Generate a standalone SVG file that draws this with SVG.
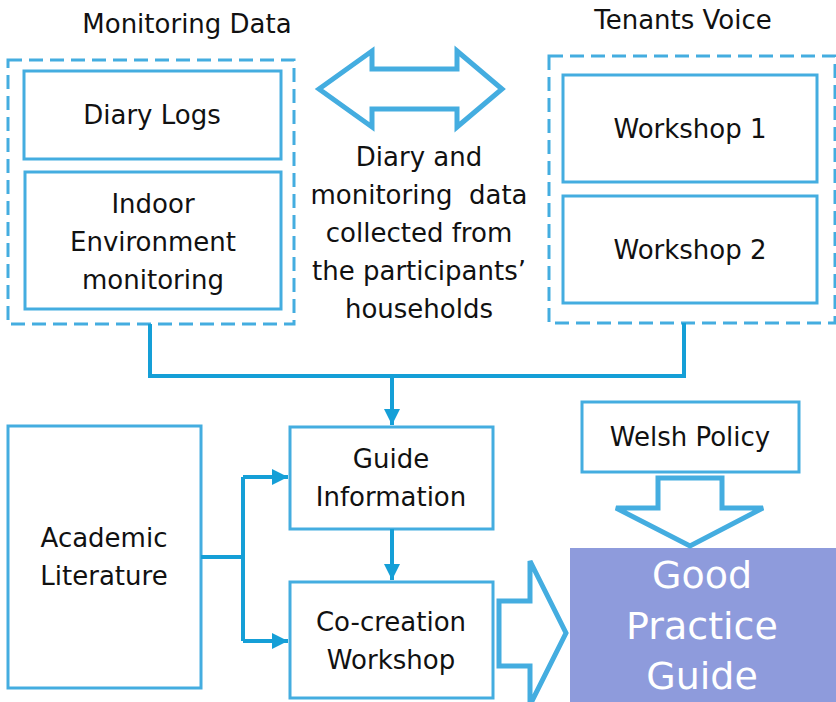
<svg xmlns="http://www.w3.org/2000/svg" width="836" height="702" viewBox="0 0 836 702">
<defs>
<style>
.box{fill:#fff;stroke:#44ade0;stroke-width:3}
.dash{fill:none;stroke:#44ade0;stroke-width:3;stroke-dasharray:14 7}
.t{font-family:"DejaVu Sans","Liberation Sans",sans-serif;font-size:26px;fill:#111;text-anchor:middle}
.big{font-family:"DejaVu Sans","Liberation Sans",sans-serif;font-size:38px;fill:#fff;text-anchor:middle}
.con{fill:none;stroke:#159fd7;stroke-width:4}
.fat{fill:#fff;stroke:#44ade0;stroke-width:5;stroke-linejoin:miter}
</style>
<marker id="ah" viewBox="0 0 10 10" refX="10" refY="5" markerWidth="4" markerHeight="4" markerUnits="strokeWidth" orient="auto">
<path d="M0,0 L10,5 L0,10 z" fill="#159fd7"/>
</marker>
</defs>
<rect width="836" height="702" fill="#fff"/>

<g id="monitoring-data">
<rect class="dash" x="8" y="60" width="286" height="264"/>
<text class="t" x="187" y="33">Monitoring Data</text>
</g>
<g id="diary-logs">
<rect class="box" x="24" y="71" width="257" height="88"/>
<text class="t" x="152" y="124">Diary Logs</text>
</g>
<g id="indoor-env">
<rect class="box" x="25" y="172" width="256" height="137"/>
<text class="t" x="153" y="213">Indoor</text>
<text class="t" x="153" y="251">Environment</text>
<text class="t" x="153" y="289">monitoring</text>
</g>

<g id="tenants-voice">
<rect class="dash" x="549" y="56" width="286" height="267"/>
<text class="t" x="683" y="29">Tenants Voice</text>
</g>
<g id="workshop1">
<rect class="box" x="563" y="75" width="254" height="107"/>
<text class="t" x="690" y="138">Workshop 1</text>
</g>
<g id="workshop2">
<rect class="box" x="563" y="196" width="254" height="107"/>
<text class="t" x="690" y="259">Workshop 2</text>
</g>

<g id="double-arrow">
<path class="fat" d="M319,89 L372,51 L372,69 L457,69 L457,51 L502,89 L457,127 L457,109 L372,109 L372,127 Z"/>
</g>
<g id="middle-text">
<text class="t" x="419" y="166">Diary and</text>
<text class="t" x="419" y="204" xml:space="preserve">monitoring  data</text>
<text class="t" x="419" y="242">collected from</text>
<text class="t" x="419" y="280">the participants’</text>
<text class="t" x="419" y="318">households</text>
</g>

<g id="academic">
<rect class="box" x="8" y="426" width="193" height="262"/>
<text class="t" x="104" y="547">Academic</text>
<text class="t" x="104" y="585">Literature</text>
</g>
<g id="guide-info">
<rect class="box" x="290" y="427" width="203" height="102"/>
<text class="t" x="391" y="468">Guide</text>
<text class="t" x="391" y="506">Information</text>
</g>
<g id="cocreation">
<rect class="box" x="290" y="582" width="203" height="116"/>
<text class="t" x="391" y="631">Co-creation</text>
<text class="t" x="391" y="669">Workshop</text>
</g>
<g id="welsh-policy">
<rect class="box" x="582" y="402" width="217" height="70"/>
<text class="t" x="690" y="446">Welsh Policy</text>
</g>
<g id="good-practice">
<rect x="570" y="548" width="266" height="154" fill="#8e9bdc"/>
<text class="big" x="702" y="588">Good</text>
<text class="big" x="702" y="639">Practice</text>
<text class="big" x="702" y="689">Guide</text>
</g>

<g id="connectors">
<path class="con" d="M150,324 V376 H684 V323"/>
<path class="con" d="M392,376 V425" marker-end="url(#ah)"/>
<path class="con" d="M201,557 H243"/>
<path class="con" d="M243,477 V641"/>
<path class="con" d="M243,477 H288" marker-end="url(#ah)"/>
<path class="con" d="M243,641 H288" marker-end="url(#ah)"/>
<path class="con" d="M392,529 V580" marker-end="url(#ah)"/>
<path class="fat" d="M658,478 L722,478 L722,508 L763,508 L690,546 L616,508 L658,508 Z"/>
<path class="fat" d="M499,601 L530,601 L530,561 L566,633 L530,705 L530,666 L499,666 Z"/>
</g>
</svg>
